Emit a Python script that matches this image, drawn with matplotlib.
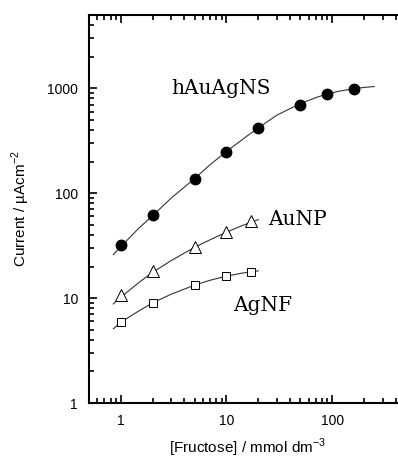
import matplotlib
matplotlib.use('Agg')
import matplotlib.pyplot as plt

plt.rcParams['font.family'] = ['Liberation Sans', 'DejaVu Sans']
plt.rcParams['mathtext.fontset'] = 'custom'
plt.rcParams['mathtext.rm'] = 'Liberation Sans'

# measured points
x_hauagns = [1, 2, 5, 10, 20, 50, 90, 160]
y_hauagns = [32, 62, 138, 245, 415, 700, 890, 975]
x_aunp = [1, 2, 5, 10, 17]
y_aunp = [10.8, 18, 30.5, 42.5, 54]
x_agnf = [1, 2, 5, 10, 17]
y_agnf = [5.9, 9.0, 13.3, 16.2, 17.7]

# fitted curves
xc_hauagns = [0.85, 1, 1.5, 2, 3, 5, 7, 10, 15, 20, 30, 50, 70, 90, 120, 160, 200, 250]
yc_hauagns = [26, 31, 47, 61, 90, 138, 187, 250, 340, 420, 555, 715, 815, 885, 945, 990, 1020, 1040]
xc_aunp = [0.85, 1, 1.5, 2, 3, 5, 7, 10, 14, 20]
yc_aunp = [8.8, 10.2, 14.2, 17.6, 22.8, 30.5, 36, 42.5, 49, 56]
xc_agnf = [0.85, 1, 1.5, 2, 3, 5, 7, 10, 14, 20]
yc_agnf = [5.1, 5.9, 7.6, 9.0, 10.9, 13.3, 14.8, 16.2, 17.3, 18.2]

fig = plt.figure(figsize=(3.98, 4.61), dpi=100)
ax = fig.add_axes([89 / 398, 1 - 403 / 461, 317 / 398, 388 / 461])

ax.plot(xc_hauagns, yc_hauagns, color='#333333', lw=0.8)
ax.plot(xc_aunp, yc_aunp, color='#333333', lw=0.8)
ax.plot(xc_agnf, yc_agnf, color='#333333', lw=0.8)

ax.plot(x_hauagns, y_hauagns, 'o', color='black', ms=7.5, ls='none')
ax.plot(x_aunp, y_aunp, '^', mfc='white', mec='black', mew=0.7, ms=8, ls='none')
ax.plot(x_agnf, y_agnf, 's', mfc='white', mec='black', mew=0.7, ms=6, ls='none')

ax.set_xscale('log')
ax.set_yscale('log')
ax.set_xlim(0.5, 500)
ax.set_ylim(1, 5000)

ax.set_xticks([1, 10, 100])
ax.set_xticklabels(['1', '10', '100'])
ax.set_yticks([1, 10, 100, 1000])
ax.set_yticklabels(['1', '10', '100', '1000'])

ax.tick_params(which='both', direction='in', top=True, right=True, labelsize=10, width=1.2)
ax.tick_params(which='major', length=6, pad=8)
ax.tick_params(which='minor', length=3.5)
for s in ax.spines.values():
    s.set_linewidth(1.5)

ax.set_xlabel('[Fructose] / mmol dm$^{-3}$', fontsize=11, labelpad=6)
ax.set_ylabel('Current / µAcm$^{-2}$', fontsize=11, labelpad=11)

# series labels
ax.text(3.0, 990, 'hAuAgNS', family='DejaVu Serif', fontsize=14.5, va='center', ha='left')
ax.text(25, 56, 'AuNP', family='DejaVu Serif', fontsize=14.5, va='center', ha='left')
ax.text(11.5, 8.5, 'AgNF', family='DejaVu Serif', fontsize=14.5, va='center', ha='left')

fig.savefig('out.png', dpi=100)
